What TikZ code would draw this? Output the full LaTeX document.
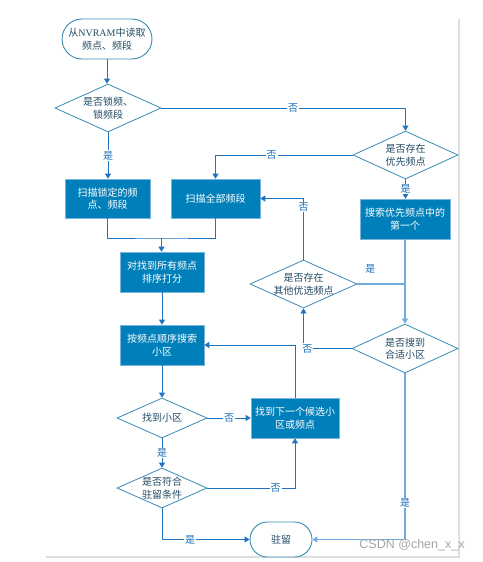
\documentclass[tikz,border=0pt]{standalone}
\usepackage{fontspec}
\setmainfont{Liberation Serif}
\newfontfamily\cjk{Noto Sans CJK SC}
\newfontfamily\latinserif{Liberation Serif}
\newfontfamily\wmfont{Liberation Sans}
\usetikzlibrary{shapes.geometric,arrows.meta}
\definecolor{lineC}{RGB}{30,115,195}
\definecolor{lightC}{RGB}{112,170,222}
\definecolor{boxC}{RGB}{0,128,186}
\definecolor{boxE}{RGB}{120,180,220}
\definecolor{diaC}{RGB}{55,140,180}
\definecolor{diaT}{RGB}{35,75,100}
\definecolor{labC}{RGB}{25,110,185}
\definecolor{frameC}{RGB}{222,222,222}
\definecolor{wmC}{RGB}{165,165,165}
\begin{document}
\begin{tikzpicture}[x=1pt,y=-1pt,
  box/.style={rectangle, fill=boxC, draw=boxE, line width=0.6pt, text=white,
    font=\cjk\fontsize{10}{12.5}\selectfont, align=center, inner sep=0},
  dia/.style={diamond, draw=diaC, line width=0.8pt, inner sep=0, fill=white},
  dtext/.style={text=diaT, font=\cjk\fontsize{10}{12.5}\selectfont, align=center, inner sep=0},
  term/.style={rectangle, draw=diaC, line width=0.9pt, fill=white, inner sep=0,
    text=diaT, font=\cjk\fontsize{10}{12.5}\selectfont, align=center},
  conn/.style={draw=lineC, line width=0.8pt, -{Triangle[width=6pt,length=5pt]}},
  lconn/.style={draw=lightC, line width=1.3pt, -{Triangle[width=6pt,length=5pt]}},
  lab/.style={fill=white, text=labC, font=\cjk\fontsize{10}{12}\selectfont, inner sep=0.8pt},
]
\useasboundingbox (0,0) rectangle (482,562);
% page frame shadow
\coordinate (fa) at (459,19);
\coordinate (fb) at (459,557);
\coordinate (fc) at (46,557);
\draw[frameC, line width=1.2pt] (fa) -- (fb) -- (fc);

% nodes
\node[term, rounded corners=20pt, minimum width=90pt, minimum height=40pt] (t1) at (107,39)
  {从{\latinserif NVRAM}中读取\\频点、频段};
\node[dia, minimum width=106pt, minimum height=48pt] (d1) at (108,108) {};
\node[dtext] (d1t) at (d1) {是否锁频、\\锁频段};
\node[dia, minimum width=105pt, minimum height=48pt] (d2) at (405.5,155) {};
\node[dtext] (d2t) at (d2) {是否存在\\优先频点};
\node[box, minimum width=85pt, minimum height=39pt] (b1) at (107.5,198.5) {扫描锁定的频\\点、频段};
\node[box, minimum width=89pt, minimum height=39pt] (b2) at (215.5,198.5) {扫描全部频段};
\node[box, minimum width=90pt, minimum height=40pt] (b3) at (405,219) {搜索优先频点中的\\第一个};
\node[box, minimum width=84pt, minimum height=40pt] (b4) at (162,272) {对找到所有频点\\排序打分};
\node[box, minimum width=84pt, minimum height=40pt] (b5) at (162,345) {按频点顺序搜索\\小区};
\node[dia, minimum width=107pt, minimum height=48pt] (d3) at (303.5,284) {};
\node[dtext] (d3t) at (d3) {是否存在\\其他优选频点};
\node[dia, minimum width=106pt, minimum height=49pt] (d4) at (405,348.5) {};
\node[dtext] (d4t) at (d4) {是否搜到\\合适小区};
\node[box, minimum width=88pt, minimum height=40pt] (b6) at (295,418) {找到下一个候选小\\区或频点};
\node[dia, minimum width=90pt, minimum height=40pt] (d5) at (162,418) {};
\node[dtext] (d5t) at (d5) {找到小区};
\node[dia, minimum width=90pt, minimum height=40pt] (d6) at (162,488) {};
\node[dtext] (d6t) at (d6) {是否符合\\驻留条件};
\node[term, rounded corners=17.5pt, minimum width=62pt, minimum height=35pt] (t2) at (281,539.5) {驻留};

% connectors
\draw[conn] (t1.south) -- (t1.south |- d1.north);
\draw[conn] (d1.east) -| node[lab, pos=0.27] {否} (d2.north);
\draw[conn] (d1.south) -- node[lab] {是} (d1.south |- b1.north);
\draw[conn] (d2.west) -| node[lab, pos=0.295] {否} (b2.north);
\draw[conn] (d2.south) -- node[lab] {是} (d2.south |- b3.north);
\coordinate (j1) at (161.5,238);
\draw[draw=lineC, line width=0.8pt] (b1.south) |- (j1) -| (b2.south);
\draw[conn] (j1) -- (j1 |- b4.north);
\draw[conn] (b4.south) -- (b5.north);
\draw[conn] (b5.south) -- (d5.north);
\draw[conn] (d5.east) -- node[lab] {否} (b6.west);
\draw[conn] (d5.south) -- node[lab] {是} (d6.north);
\draw[conn] (d6.east) -| node[lab, pos=0.39] {否} (b6.south);
\draw[conn] (d6.south) |- node[lab, pos=0.66] {是} (t2.west);
\draw[conn] (b6.north) |- (b5.east);
\draw[lconn] (b3.south) -- (d4.north);
\draw[draw=lightC, line width=1.3pt] (d3.east) -- node[lab, pos=0.27, anchor=south, yshift=9pt] {是} (d3.east -| b3.south);
\draw[conn] (d4.west) -| node[lab, pos=0.46] {否} (d3.south);
\draw[conn] (d3.north) |- node[lab, pos=0.43] {否} (b2.east);
\draw[lconn] (d4.south) |- node[lab, pos=0.39] {是} (t2.east);

% watermark
\node[text=wmC, font=\wmfont\fontsize{12.5}{14}\selectfont, inner sep=0] (wm) at (412,545) {CSDN @chen\_x\_x};
\end{tikzpicture}
\end{document}
